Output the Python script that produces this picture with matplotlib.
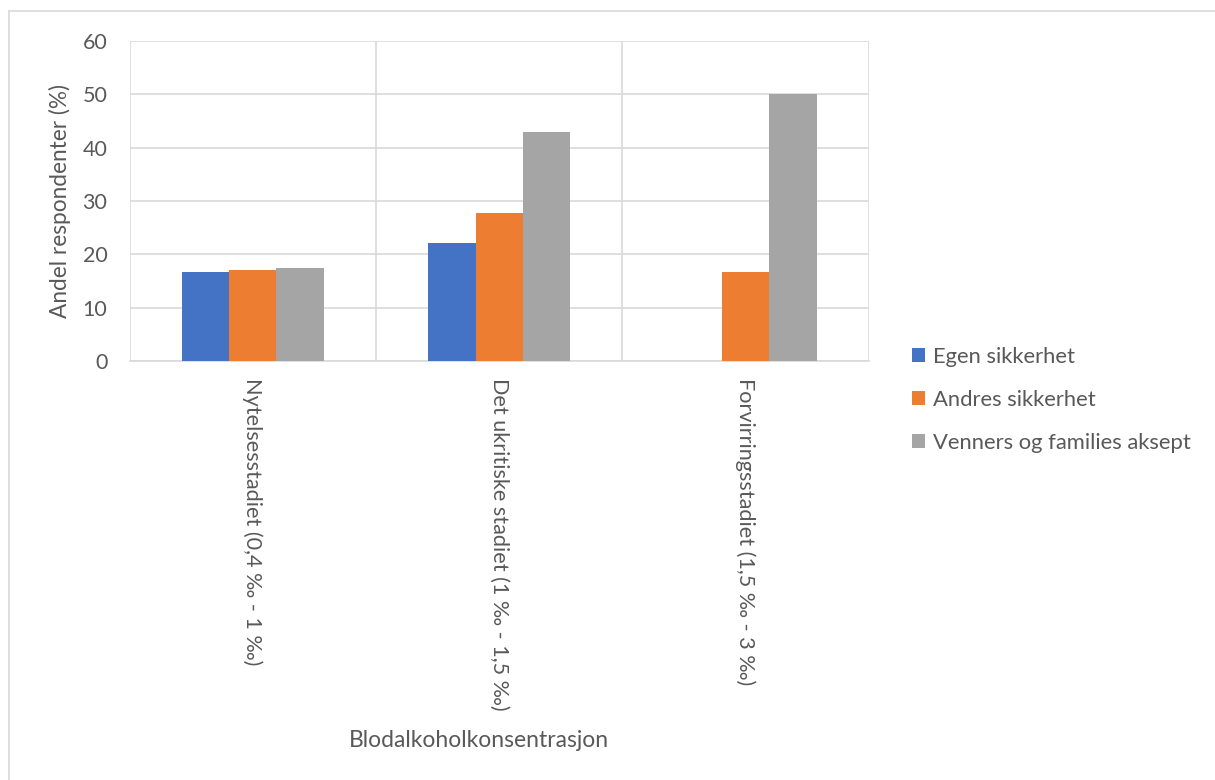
import matplotlib
matplotlib.use("Agg")
import matplotlib.pyplot as plt
import numpy as np

# Data
categories = ['Nytelsesstadiet (0,4 ‰ - 1 ‰)',
              'Det ukritiske stadiet (1 ‰ - 1,5 ‰)',
              'Forvirringsstadiet (1,5 ‰ - 3 ‰)']
series_names = ['Egen sikkerhet', 'Andres sikkerhet', 'Venners og families aksept']
egen = [16.6, 22.2, 0.0]
andres = [17.1, 27.8, 16.6]
venner = [17.5, 42.9, 50.0]
y_ticks = [0, 10, 20, 30, 40, 50, 60]

colors = ['#4472C4', '#ED7D31', '#A5A5A5']
text_color = '#595959'
grid_color = '#D9D9D9'

plt.rcParams['font.family'] = ['Lato', 'DejaVu Sans']

fig = plt.figure(figsize=(12.15, 7.8), dpi=100)
ax = fig.add_axes([0.1066, 0.5372, 0.6086, 0.4103])

x = np.arange(len(categories))
width = 0.1925
for i, (name, vals) in enumerate(zip(series_names, [egen, andres, venner])):
    ax.bar(x + (i - 1) * width, vals, width=width, color=colors[i],
           label=name, zorder=3)

ax.set_xlim(-0.5, len(categories) - 0.5)
ax.set_ylim(0, 60)
ax.set_yticks(y_ticks)
ax.set_yticklabels([str(v) for v in y_ticks], fontsize=15.5, color=text_color)

# category separators as vertical gridlines
ax.set_xticks(x)
ax.set_xticks(np.arange(-0.5, len(categories), 1.0), minor=True)
ax.set_xticklabels(categories, rotation=270, fontsize=15.6, color=text_color,
                   va='top', ha='center')
ax.grid(axis='y', color=grid_color, linewidth=1.2, zorder=0)
ax.grid(axis='x', which='minor', color=grid_color, linewidth=1.2, zorder=0)
ax.tick_params(axis='both', which='both', length=0)
ax.tick_params(axis='x', pad=12)
ax.tick_params(axis='y', pad=16)
for s in ax.spines.values():
    s.set_visible(False)
ax.spines['bottom'].set_visible(True)
ax.spines['bottom'].set_color(grid_color)
ax.spines['bottom'].set_linewidth(1.2)

ax.set_ylabel('Andel respondenter (%)', fontsize=16.3, color=text_color, labelpad=8)
fig.text(0.394, 0.051, 'Blodalkoholkonsentrasjon', fontsize=16.5,
         color=text_color, ha='center', va='center')

leg = ax.legend(loc='center left', bbox_to_anchor=(0.7435, 0.487),
                bbox_transform=fig.transFigure, frameon=False,
                fontsize=15.8, handlelength=0.6, handleheight=0.6,
                handletextpad=0.35, labelspacing=1.05, borderaxespad=0)
for t in leg.get_texts():
    t.set_color(text_color)

# outer chart border (top and left visible in the reference)
fig.add_artist(plt.Line2D([0.0075, 1.0], [0.986, 0.986], transform=fig.transFigure,
                          color=grid_color, linewidth=1.2))
fig.add_artist(plt.Line2D([0.0075, 0.0075], [0.0, 0.986], transform=fig.transFigure,
                          color=grid_color, linewidth=1.2))

fig.savefig('out.png', dpi=100)
